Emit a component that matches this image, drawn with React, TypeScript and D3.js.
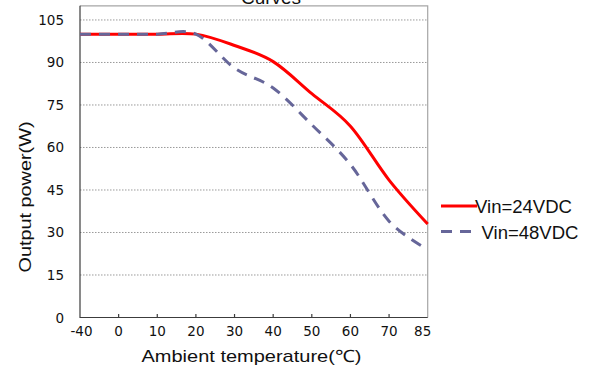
import React, { useEffect, useRef } from 'react';
import * as d3 from 'd3';

// Categories on the x axis (evenly spaced, like a category axis)
const temps = ['-40', '0', '10', '20', '30', '40', '50', '60', '70', '85'];
// Output power for each input voltage
const vin24 = [100, 100, 100, 100, 96, 90.3, 79, 67.5, 48.5, 33];
const vin48 = [100, 100, 100, 100, 88, 81, 68, 54, 34, 24];
const yTicks = [0, 15, 30, 45, 60, 75, 90, 105];

function App() {
    const svgRef = useRef<SVGSVGElement>(null);

    useEffect(() => {
        const width = 595;
        const height = 378;
        const left = 80, right = 427.7, top = 5.8, bottom = 317.5;
        const font = 'Liberation Sans, Arial, sans-serif';
        const tickFont = 'DejaVu Sans, sans-serif';

        const svg = d3.select(svgRef.current)
            .attr('width', width)
            .attr('height', height);
        svg.selectAll('*').remove();

        svg.append('rect').attr('width', width).attr('height', height).attr('fill', 'white');

        const x = d3.scalePoint<string>().domain(temps).range([left, right]);
        const y = d3.scaleLinear().domain([0, 110]).range([bottom, top]);

        // dotted grid lines
        svg.append('g')
            .selectAll('line')
            .data(yTicks.filter(v => v > 0))
            .enter()
            .append('line')
            .attr('x1', left).attr('x2', right)
            .attr('y1', d => y(d)).attr('y2', d => y(d))
            .attr('stroke', '#9a9a9a')
            .attr('stroke-width', 1)
            .attr('stroke-dasharray', '1.5 1.5');

        // plot frame: light top/right, dark left/bottom
        svg.append('path')
            .attr('d', `M${left},${top}H${right}V${bottom}`)
            .attr('fill', 'none')
            .attr('stroke', '#a6a6a6')
            .attr('stroke-width', 1.2);
        svg.append('path')
            .attr('d', `M${left},${top}V${bottom}H${right}`)
            .attr('fill', 'none')
            .attr('stroke', '#3c3c3c')
            .attr('stroke-width', 1.2);

        // inner tick marks on the x axis
        svg.append('g')
            .selectAll('line')
            .data(temps.slice(1, -1))
            .enter()
            .append('line')
            .attr('x1', d => x(d)!).attr('x2', d => x(d)!)
            .attr('y1', bottom).attr('y2', bottom - 3.5)
            .attr('stroke', '#3c3c3c')
            .attr('stroke-width', 1.2);

        // y tick labels
        svg.append('g')
            .selectAll('text')
            .data(yTicks)
            .enter()
            .append('text')
            .attr('x', 64)
            .attr('y', d => y(d) + 5)
            .attr('text-anchor', 'end')
            .style('font-family', tickFont)
            .style('font-size', '13.5px')
            .style('fill', '#111')
            .text(d => d);

        // x tick labels
        svg.append('g')
            .selectAll('text')
            .data(temps)
            .enter()
            .append('text')
            .attr('x', (d, i) => x(d)! + (i === 0 ? 1.5 : i === temps.length - 1 ? -5 : 0))
            .attr('y', 336)
            .attr('text-anchor', 'middle')
            .style('font-family', tickFont)
            .style('font-size', '13.5px')
            .style('fill', '#111')
            .text(d => d);

        // axis titles
        svg.append('text')
            .attr('x', 251.5)
            .attr('y', 362)
            .attr('text-anchor', 'middle')
            .attr('textLength', 220)
            .attr('lengthAdjust', 'spacingAndGlyphs')
            .style('font-family', font)
            .style('font-size', '17px')
            .style('fill', '#111')
            .text('Ambient temperature(℃)');

        svg.append('text')
            .attr('transform', 'translate(31,197) rotate(-90)')
            .attr('text-anchor', 'middle')
            .attr('textLength', 151)
            .attr('lengthAdjust', 'spacingAndGlyphs')
            .style('font-family', font)
            .style('font-size', '17px')
            .style('fill', '#111')
            .text('Output power(W)');

        // title, mostly cut off at the top as in the original
        svg.append('text')
            .attr('x', 271)
            .attr('y', 4)
            .attr('text-anchor', 'middle')
            .style('font-family', font)
            .style('font-size', '19px')
            .style('fill', '#111')
            .text('Curves');

        const line = d3.line<number>()
            .x((d, i) => x(temps[i])!)
            .y(d => y(d))
            .curve(d3.curveCatmullRom.alpha(0));

        svg.append('path')
            .attr('d', line(vin24))
            .attr('fill', 'none')
            .attr('stroke', '#ff0000')
            .attr('stroke-width', 3);

        svg.append('path')
            .attr('d', line(vin48))
            .attr('fill', 'none')
            .attr('stroke', '#666699')
            .attr('stroke-width', 3)
            .attr('stroke-dasharray', '11 8');

        // legend
        const legend = [
            { label: 'Vin=24VDC', color: '#ff0000', dash: null, y: 206, tx: 475 },
            { label: 'Vin=48VDC', color: '#666699', dash: '11 8', y: 231.5, tx: 481.5 }
        ];
        const lg = svg.append('g');
        legend.forEach(l => {
            lg.append('line')
                .attr('x1', 441).attr('x2', 477)
                .attr('y1', l.y).attr('y2', l.y)
                .attr('stroke', l.color)
                .attr('stroke-width', 3)
                .attr('stroke-dasharray', l.dash);
            lg.append('text')
                .attr('x', l.tx)
                .attr('y', l.y + 7)
                .attr('textLength', 97)
                .attr('lengthAdjust', 'spacingAndGlyphs')
                .style('font-family', font)
                .style('font-size', '18px')
                .style('fill', '#111')
                .text(l.label);
        });
    }, []);

    return (
        <div style={{ position: 'absolute', left: 0, top: 0 }}>
            <svg ref={svgRef} style={{ display: 'block' }}></svg>
        </div>
    );
}

export default App;
